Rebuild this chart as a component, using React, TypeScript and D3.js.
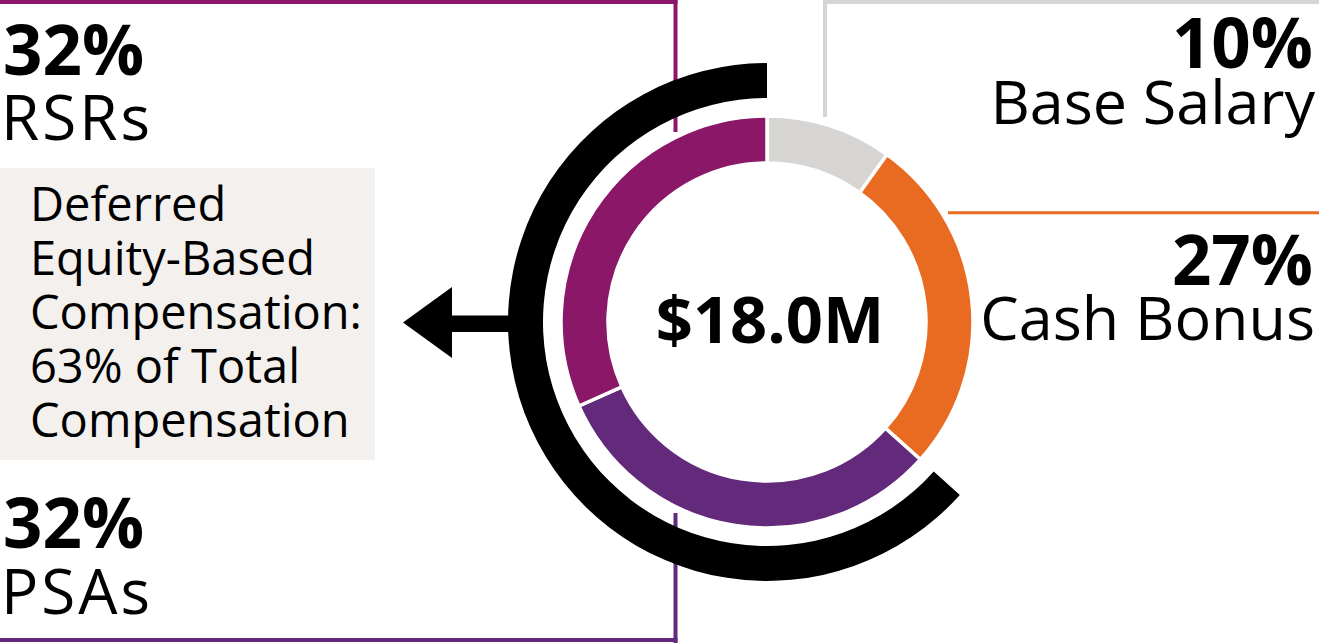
import React from "react";
import * as d3 from "d3";

const categories = ["Base Salary", "Cash Bonus", "PSAs", "RSRs"];
const values = [10, 27, 32, 32];
const colors = ["#d6d5d3", "#e96b22", "#63297b", "#8a1768"];
const centerLabel = "$18.0M";
const deferredLines = ["Deferred", "Equity-Based", "Compensation:", "63% of Total", "Compensation"];
const deferredGroup = ["PSAs", "RSRs"];

const W = 1319;
const H = 643;
const cx = 767;
const cy = 322;
const FONT = "'Open Sans', 'Noto Sans', sans-serif";

export default function App() {
  const pie = d3.pie<number>().sort(null).value((d) => d)(values);
  const arc = d3.arc<any>().innerRadius(159).outerRadius(206);
  const deferredIdx = categories.map((c, i) => (deferredGroup.includes(c) ? i : -1)).filter((i) => i >= 0);
  const startA = d3.min(deferredIdx, (i) => pie[i].startAngle) as number;
  const endA = d3.max(deferredIdx, (i) => pie[i].endAngle) as number;
  const bigArc = d3.arc<any>()({ innerRadius: 224, outerRadius: 259, startAngle: startA, endAngle: endA });
  const pct = (i: number) => Math.round(values[i]) + "%";

  return (
    <svg width={W} height={H} style={{ position: "absolute", left: 0, top: 0, background: "#fff" }} fontFamily={FONT}>
      {/* left box borders */}
      <line x1={0} x2={677.5} y1={2} y2={2} stroke="#8a1768" strokeWidth={4} />
      <line x1={675.5} x2={675.5} y1={0} y2={132} stroke="#8a1768" strokeWidth={4} />
      <line x1={675.5} x2={675.5} y1={513} y2={643} stroke="#63297b" strokeWidth={4} />
      <line x1={0} x2={677.5} y1={640} y2={640} stroke="#63297b" strokeWidth={4} />
      {/* right box borders */}
      <line x1={823} x2={W} y1={2} y2={2} stroke="#d6d5d3" strokeWidth={4} />
      <line x1={825} x2={825} y1={0} y2={117} stroke="#d6d5d3" strokeWidth={4} />
      <line x1={948} x2={W} y1={212.7} y2={212.7} stroke="#e96b22" strokeWidth={3} />

      {/* deferred box */}
      <rect x={0} y={168} width={375} height={292} fill="#f3f0ed" />
      {deferredLines.map((t, i) => (
        <text key={i} x={30} y={221 + i * 54} fontSize={47} fill="#000">
          {t}
        </text>
      ))}

      {/* arrow */}
      <rect x={450} y={315.5} width={62} height={16.5} fill="#000" />
      <path d="M403,322.5L452,287L452,358Z" fill="#000" />

      <g transform={`translate(${cx},${cy})`}>
        <path d={bigArc || ""} fill="#000" />
        {pie.map((p, i) => (
          <path key={i} d={arc(p) || ""} fill={colors[i]} stroke="#fff" strokeWidth={3.5} />
        ))}
        <text x={3} y={21} textAnchor="middle" fontSize={65} fontWeight={700} fill="#000">
          {centerLabel}
        </text>
      </g>

      {/* labels */}
      <text x={3} y={75} fontSize={69} fontWeight={700}>{pct(3)}</text>
      <text x={1} y={140} fontSize={62} letterSpacing={3}>{categories[3]}</text>
      <text x={3} y={548} fontSize={69} fontWeight={700}>{pct(2)}</text>
      <text x={1} y={614} fontSize={62} letterSpacing={3}>{categories[2]}</text>
      <text x={1313} y={68} fontSize={69} fontWeight={700} textAnchor="end">{pct(0)}</text>
      <text x={1315} y={124} fontSize={61} textAnchor="end">{categories[0]}</text>
      <text x={1313} y={285} fontSize={69} fontWeight={700} textAnchor="end">{pct(1)}</text>
      <text x={1315} y={340} fontSize={61} textAnchor="end">{categories[1]}</text>
    </svg>
  );
}
